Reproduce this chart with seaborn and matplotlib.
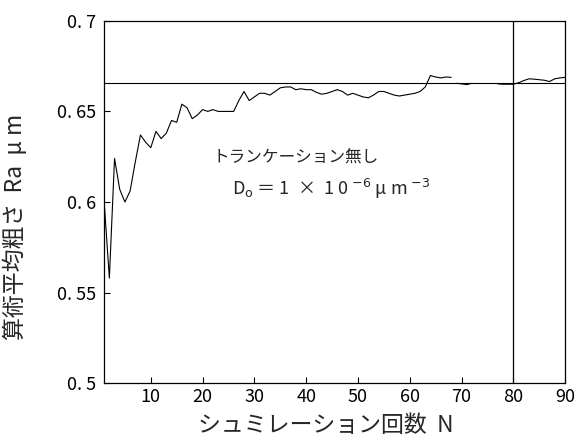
import numpy as np
import pandas as pd
import matplotlib
matplotlib.use("Agg")
import matplotlib.pyplot as plt
import seaborn as sns

# simulation count N and mean roughness Ra
n_values = list(range(1, 69)) + list(range(69, 73)) + list(range(77, 91))
ra_values = [
    0.600, 0.558, 0.624, 0.607, 0.600, 0.606, 0.622, 0.637, 0.633, 0.630,
    0.639, 0.635, 0.638, 0.645, 0.644, 0.654, 0.652, 0.646, 0.648, 0.651,
    0.650, 0.651, 0.650, 0.650, 0.650, 0.650, 0.656, 0.661, 0.656, 0.658,
    0.660, 0.660, 0.659, 0.661, 0.663, 0.6635, 0.6635, 0.662, 0.6625, 0.662,
    0.662, 0.6605, 0.6595, 0.660, 0.661, 0.662, 0.661, 0.659, 0.660, 0.659,
    0.658, 0.6575, 0.659, 0.661, 0.661, 0.660, 0.659, 0.6585, 0.659, 0.6595,
    0.660, 0.661, 0.6635, 0.6698, 0.669, 0.6685, 0.669, 0.6688,
    0.6655, 0.6652, 0.6648, 0.6655,
    0.6652, 0.6650, 0.6650, 0.6650, 0.6658, 0.6670, 0.6680, 0.6678, 0.6675,
    0.6672, 0.6665, 0.6680, 0.6685, 0.6688,
]
# the trace is broken in the scan
segments = [0] * 68 + [1] * 4 + [2] * 14

converged_ra = 0.6655
marker_n = 80

x_ticks = [10, 20, 30, 40, 50, 60, 70, 80, 90]
y_ticks = [0.5, 0.55, 0.6, 0.65, 0.7]
y_tick_labels = ["0. 5", "0. 55", "0. 6", "0. 65", "0. 7"]

df = pd.DataFrame({"N": n_values, "Ra": ra_values, "seg": segments})

sns.set_style("ticks")
plt.rcParams["font.family"] = ["Noto Sans CJK JP", "DejaVu Sans"]
plt.rcParams["mathtext.fontset"] = "dejavusans"

fig = plt.figure(figsize=(5.82, 4.43), dpi=100)
ax = fig.add_axes([0.179, 0.135, 0.792, 0.818])

sns.lineplot(data=df, x="N", y="Ra", units="seg", estimator=None,
             color="black", linewidth=0.8, ax=ax)
ax.axhline(converged_ra, color="black", linewidth=0.8)
ax.axvline(marker_n, color="black", linewidth=0.9)

ax.set_xlim(1, 90)
ax.set_ylim(0.5, 0.7)
ax.set_xticks(x_ticks)
ax.set_xticklabels([str(t) for t in x_ticks])
ax.set_yticks(y_ticks)
ax.set_yticklabels(y_tick_labels)
ax.tick_params(direction="in", length=4, width=0.8, labelsize=13, colors="black")
ax.tick_params(axis="y", pad=6)
for s in ax.spines.values():
    s.set_linewidth(0.9)
    s.set_color("black")

ax.set_xlabel("シュミレーション回数  N", fontsize=16.5)
ax.xaxis.set_label_coords(0.48, -0.085)
ax.set_ylabel("算術平均粗さ  Ra  μ m", fontsize=16.5)
ax.yaxis.set_label_coords(-0.167, 0.43)

ax.text(22, 0.625, "トランケーション無し", fontsize=12, va="center")
ax.text(25.6, 0.607, r"D$_{\rm o}$ ＝ 1  ×  1 0 $^{-6}$ μ m $^{-3}$",
        fontsize=13, va="center")

fig.savefig("out.png", dpi=100)
